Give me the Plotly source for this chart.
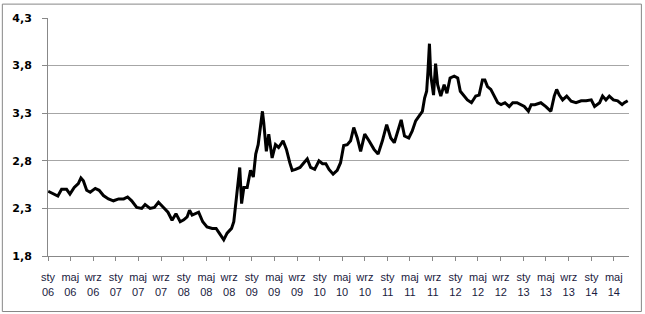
import plotly.graph_objects as go

dates = [
    "2006-01-02", "2006-01-22", "2006-02-23", "2006-03-15", "2006-04-11", "2006-04-29",
    "2006-05-22", "2006-06-13", "2006-06-27", "2006-07-10", "2006-07-28", "2006-08-16",
    "2006-09-12", "2006-10-03", "2006-10-26", "2006-11-22", "2006-12-19", "2007-01-16",
    "2007-02-12", "2007-03-05", "2007-03-27", "2007-04-23", "2007-05-20", "2007-06-07",
    "2007-07-04", "2007-07-27", "2007-08-18", "2007-09-14", "2007-10-08", "2007-10-30",
    "2007-11-20", "2007-12-13", "2008-01-01", "2008-01-19", "2008-02-01", "2008-02-15",
    "2008-03-03", "2008-03-21", "2008-04-12", "2008-05-05", "2008-06-02", "2008-06-23",
    "2008-07-10", "2008-08-03", "2008-08-21", "2008-09-14", "2008-09-26", "2008-10-05",
    "2008-10-16", "2008-10-28", "2008-11-07", "2008-11-19", "2008-12-07", "2008-12-25",
    "2009-01-09", "2009-01-22", "2009-02-04", "2009-02-14", "2009-02-27", "2009-03-06",
    "2009-03-20", "2009-04-02", "2009-04-20", "2009-05-08", "2009-05-25", "2009-06-18",
    "2009-07-06", "2009-07-24", "2009-08-06", "2009-08-24", "2009-09-17", "2009-10-08",
    "2009-10-26", "2009-11-13", "2009-12-05", "2009-12-28", "2010-01-16", "2010-02-03",
    "2010-02-20", "2010-03-14", "2010-04-05", "2010-04-23", "2010-05-10", "2010-05-29",
    "2010-06-16", "2010-07-03", "2010-07-22", "2010-08-09", "2010-08-31", "2010-09-23",
    "2010-10-20", "2010-11-11", "2010-12-04", "2010-12-27", "2011-01-18", "2011-02-06",
    "2011-02-26", "2011-03-15", "2011-04-02", "2011-04-25", "2011-05-13", "2011-06-01",
    "2011-06-19", "2011-07-07", "2011-07-19", "2011-07-30", "2011-08-06", "2011-08-14",
    "2011-08-21", "2011-09-05", "2011-09-16", "2011-09-27", "2011-10-14", "2011-11-01",
    "2011-11-16", "2011-12-03", "2011-12-25", "2012-01-13", "2012-01-27", "2012-02-14",
    "2012-03-05", "2012-03-27", "2012-04-19", "2012-05-07", "2012-05-25", "2012-06-07",
    "2012-06-21", "2012-07-09", "2012-07-27", "2012-08-15", "2012-09-02", "2012-09-23",
    "2012-10-16", "2012-11-04", "2012-11-27", "2012-12-18", "2013-01-05", "2013-01-27",
    "2013-02-11", "2013-03-03", "2013-03-26", "2013-04-04", "2013-05-01", "2013-05-28",
    "2013-06-15", "2013-06-28", "2013-07-12", "2013-07-30", "2013-08-21", "2013-09-14",
    "2013-10-10", "2013-11-07", "2013-12-04", "2013-12-31", "2014-01-18", "2014-02-14",
    "2014-03-02", "2014-03-20", "2014-04-07", "2014-04-29", "2014-05-22", "2014-06-15",
    "2014-06-27", "2014-07-15",
]

rates = [
    2.48, 2.46, 2.43, 2.50, 2.50, 2.45,
    2.52, 2.56, 2.62, 2.59, 2.49, 2.47,
    2.51, 2.49, 2.435, 2.40, 2.38, 2.40,
    2.40, 2.42, 2.38, 2.31, 2.30, 2.34,
    2.30, 2.31, 2.365, 2.31, 2.26, 2.175,
    2.245, 2.16, 2.18, 2.21, 2.28, 2.23,
    2.245, 2.26, 2.16, 2.105, 2.09, 2.09,
    2.04, 1.97, 2.04, 2.09, 2.16, 2.31,
    2.55, 2.73, 2.35, 2.52, 2.52, 2.70,
    2.63, 2.87, 2.97, 3.11, 3.32, 3.20,
    2.90, 3.08, 2.83, 2.97, 2.94, 3.01,
    2.92, 2.78, 2.70, 2.71, 2.73, 2.78,
    2.82, 2.73, 2.71, 2.80, 2.77, 2.77,
    2.71, 2.66, 2.70, 2.78, 2.96, 2.97,
    3.01, 3.15, 3.04, 2.90, 3.08, 3.01,
    2.92, 2.87, 3.01, 3.18, 3.04, 2.99,
    3.11, 3.23, 3.06, 3.04, 3.11, 3.22,
    3.27, 3.32, 3.46, 3.53, 3.74, 4.03,
    3.70, 3.49, 3.82, 3.60, 3.48, 3.60,
    3.51, 3.67, 3.69, 3.67, 3.53, 3.49,
    3.44, 3.41, 3.48, 3.49, 3.65, 3.65,
    3.58, 3.55, 3.48, 3.41, 3.39, 3.41,
    3.37, 3.41, 3.41, 3.39, 3.37, 3.32,
    3.39, 3.39, 3.41, 3.41, 3.37, 3.32,
    3.48, 3.55, 3.49, 3.44, 3.48, 3.425,
    3.41, 3.43, 3.43, 3.44, 3.37, 3.41,
    3.48, 3.44, 3.48, 3.44, 3.43, 3.39,
    3.41, 3.43,
]

tick_dates = [
    "2006-01-01", "2006-05-01", "2006-09-01", "2007-01-01", "2007-05-01", "2007-09-01",
    "2008-01-01", "2008-05-01", "2008-09-01", "2009-01-01", "2009-05-01", "2009-09-01",
    "2010-01-01", "2010-05-01", "2010-09-01", "2011-01-01", "2011-05-01", "2011-09-01",
    "2012-01-01", "2012-05-01", "2012-09-01", "2013-01-01", "2013-05-01", "2013-09-01",
    "2014-01-01", "2014-05-01",
]
tick_labels = [
    "sty<br>06", "maj<br>06", "wrz<br>06", "sty<br>07", "maj<br>07", "wrz<br>07",
    "sty<br>08", "maj<br>08", "wrz<br>08", "sty<br>09", "maj<br>09", "wrz<br>09",
    "sty<br>10", "maj<br>10", "wrz<br>10", "sty<br>11", "maj<br>11", "wrz<br>11",
    "sty<br>12", "maj<br>12", "wrz<br>12", "sty<br>13", "maj<br>13", "wrz<br>13",
    "sty<br>14", "maj<br>14",
]
y_ticks = [1.8, 2.3, 2.8, 3.3, 3.8, 4.3]

fig = go.Figure()
fig.add_trace(go.Scatter(
    x=dates, y=rates, mode="lines",
    line=dict(color="#000000", width=3),
    showlegend=False, hoverinfo="skip",
))

fig.update_layout(
    width=645, height=314,
    margin=dict(l=48, r=16, t=16, b=58),
    paper_bgcolor="white", plot_bgcolor="white",
    separators=", ",
    xaxis=dict(
        type="date",
        range=["2006-01-01", "2014-07-22"],
        tickmode="array", tickvals=tick_dates, ticktext=tick_labels,
        ticks="outside", ticklen=4, tickcolor="#888888", tickwidth=1,
        showgrid=False, showline=True, linecolor="#888888", linewidth=1,
        tickfont=dict(family="Liberation Sans", size=11, color="#1a1a40"),
        ticklabelstandoff=7,
        zeroline=False,
    ),
    yaxis=dict(
        range=[1.8, 4.3],
        tickmode="array", tickvals=y_ticks, tickformat=".1f",
        ticks="outside", ticklen=5, tickcolor="#888888", tickwidth=1,
        showgrid=True, gridcolor="#a6a6a6", gridwidth=1,
        showline=True, linecolor="#888888", linewidth=1,
        tickfont=dict(family="DejaVu Sans", size=11, color="#000000", weight="bold"),
        ticklabelstandoff=8,
        zeroline=False,
    ),
    shapes=[dict(
        type="rect", xref="paper", yref="paper",
        x0=-0.0786, x1=1.0213, y0=-0.2333, y1=1.0583,
        line=dict(color="#868686", width=1), fillcolor="rgba(0,0,0,0)",
    )],
)

fig.write_html("out.html")
